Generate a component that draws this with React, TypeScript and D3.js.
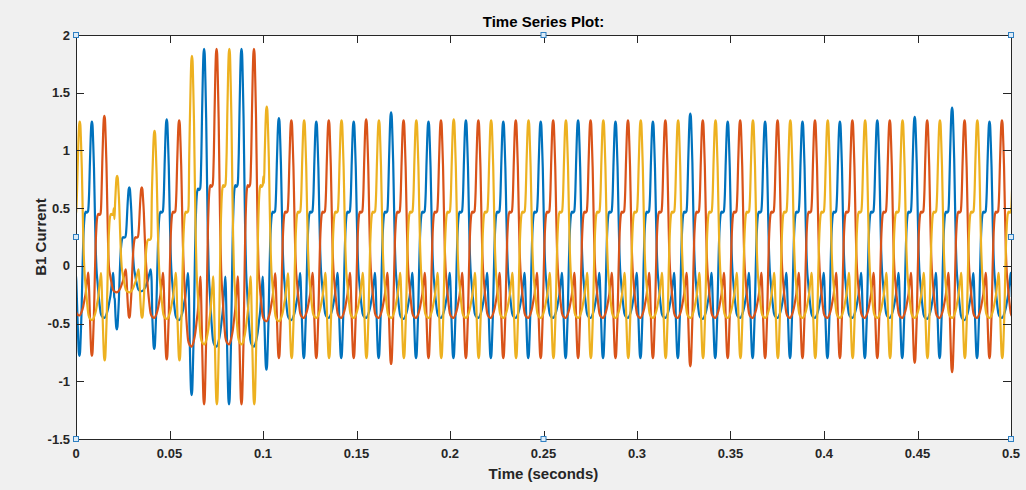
import React from "react";
import * as d3 from "d3";

const WIDTH = 1026;
const HEIGHT = 490;
const PERIOD = 0.02; // seconds per cycle (50 Hz)

const TITLE = "Time Series Plot:";
const X_LABEL = "Time (seconds)";
const Y_LABEL = "B1 Current";

const X_TICKS = [0, 0.05, 0.1, 0.15, 0.2, 0.25, 0.3, 0.35, 0.4, 0.45, 0.5];
const X_TICK_LABELS = ["0", "0.05", "0.1", "0.15", "0.2", "0.25", "0.3", "0.35", "0.4", "0.45", "0.5"];
const Y_TICKS = [-1.5, -1, -0.5, 0, 0.5, 1, 1.5, 2];
const Y_TICK_LABELS = ["-1.5", "-1", "-0.5", "0", "0.5", "1", "1.5", "2"];

// One steady-state cycle: phase (deg) relative to the main peak,
// value, and which feature of the cycle it belongs to (T trough, P plateau, K peak, V valley)
const CYCLE_PHASE = [-140, -132, -126, -120, -114, -108, -100, -92, -84, -76, -67, -58, -48, -38, -32, -26, -20, -12, -6, 0, 6, 12, 20, 28, 36, 44, 55, 70, 85, 100, 120, 140, 156, 170, 180, 190, 198, 205, 210, 215];
const CYCLE_VALUE = [-0.42, -0.65, -0.77, -0.8, -0.77, -0.64, -0.42, -0.1, 0.19, 0.36, 0.45, 0.47, 0.46, 0.47, 0.52, 0.65, 0.86, 1.1, 1.22, 1.25, 1.22, 1.08, 0.85, 0.5, 0.18, -0.02, -0.15, -0.3, -0.41, -0.44, -0.45, -0.42, -0.37, -0.3, -0.25, -0.16, -0.11, -0.06, -0.13, -0.27];
const CYCLE_FEATURE = ["T", "T", "T", "T", "T", "T", "T", "T", "P", "P", "P", "P", "P", "P", "P", "K", "K", "K", "K", "K", "K", "K", "K", "K", "K", "V", "V", "V", "V", "V", "V", "V", "V", "V", "V", "V", "V", "V", "V", "V"];
const FEATURE_REFERENCE: Record<string, number> = { T: -0.8, P: 0.47, K: 1.25, V: -0.45 };

// Phase A (blue): cycles with peaks at -0.0115, 0.0085, ...
const BLUE_FIRST_PEAK = -0.0115;
const BLUE_TROUGH = [-0.8, -0.78, -0.55, -0.72, -1.12, -1.2, -0.9, -0.8, -0.8, -0.8, -0.8, -0.8, -0.8, -0.8, -0.8, -0.8, -0.8, -0.8, -0.8, -0.8, -0.8, -0.8, -0.8, -0.8, -0.8, -0.8];
const BLUE_PLATEAU = [0.47, 0.47, 0.25, 0.47, 0.67, 0.7, 0.47, 0.47, 0.47, 0.47, 0.47, 0.47, 0.47, 0.47, 0.47, 0.47, 0.47, 0.47, 0.47, 0.47, 0.47, 0.47, 0.47, 0.47, 0.47, 0.47];
const BLUE_PEAK = [1.25, 1.25, 0.68, 1.27, 1.88, 1.88, 1.28, 1.25, 1.25, 1.33, 1.25, 1.26, 1.25, 1.25, 1.26, 1.25, 1.25, 1.32, 1.25, 1.25, 1.25, 1.25, 1.26, 1.29, 1.37, 1.25];
const BLUE_VALLEY = [-0.45, -0.45, -0.22, -0.47, -0.7, -0.7, -0.47, -0.45, -0.45, -0.46, -0.45, -0.45, -0.45, -0.45, -0.45, -0.45, -0.45, -0.46, -0.45, -0.45, -0.45, -0.45, -0.45, -0.46, -0.47, -0.45];

// Phase B (orange): peaks at -0.00483, 0.01517, ...
const RED_FIRST_PEAK = -0.00483;
const RED_TROUGH = [-0.8, -0.78, -0.45, -0.81, -1.2, -1.2, -0.8, -0.8, -0.8, -0.85, -0.8, -0.8, -0.8, -0.8, -0.8, -0.8, -0.8, -0.87, -0.8, -0.8, -0.8, -0.8, -0.8, -0.84, -0.92, -0.8];
const RED_PLATEAU = [0.47, 0.45, 0.25, 0.47, 0.7, 0.7, 0.47, 0.47, 0.47, 0.47, 0.47, 0.47, 0.47, 0.47, 0.47, 0.47, 0.47, 0.47, 0.47, 0.47, 0.47, 0.47, 0.47, 0.47, 0.47, 0.47];
const RED_PEAK = [1.25, 1.3, 0.68, 1.26, 1.88, 1.88, 1.26, 1.26, 1.27, 1.26, 1.26, 1.26, 1.26, 1.26, 1.26, 1.26, 1.26, 1.26, 1.26, 1.26, 1.26, 1.26, 1.26, 1.26, 1.26, 1.26];
const RED_VALLEY = [-0.43, -0.23, -0.45, -0.7, -0.68, -0.48, -0.45, -0.45, -0.45, -0.45, -0.45, -0.45, -0.45, -0.45, -0.45, -0.45, -0.45, -0.45, -0.45, -0.45, -0.45, -0.45, -0.45, -0.45, -0.45, -0.45];

// Phase C (yellow): peaks at 0.0020, 0.0220, ...
const YELLOW_FIRST_PEAK = 0.002;
const YELLOW_TROUGH = [-0.8, -0.82, -0.45, -0.82, -1.2, -1.2, -0.8, -0.8, -0.8, -0.8, -0.8, -0.8, -0.8, -0.8, -0.8, -0.8, -0.8, -0.8, -0.8, -0.8, -0.8, -0.8, -0.8, -0.8, -0.8, -0.8];
const YELLOW_PLATEAU = [0.45, 0.45, 0.23, 0.47, 0.7, 0.7, 0.47, 0.47, 0.47, 0.47, 0.47, 0.47, 0.47, 0.47, 0.47, 0.47, 0.47, 0.47, 0.47, 0.47, 0.47, 0.47, 0.47, 0.47, 0.47, 0.47];
const YELLOW_PEAK = [1.25, 0.78, 1.17, 1.82, 1.88, 1.38, 1.26, 1.26, 1.26, 1.26, 1.27, 1.26, 1.26, 1.26, 1.26, 1.26, 1.26, 1.26, 1.26, 1.26, 1.26, 1.26, 1.26, 1.26, 1.26, 1.26];
const YELLOW_VALLEY = [-0.47, -0.23, -0.46, -0.68, -0.68, -0.48, -0.45, -0.45, -0.45, -0.45, -0.45, -0.45, -0.45, -0.45, -0.45, -0.45, -0.45, -0.45, -0.45, -0.45, -0.45, -0.45, -0.45, -0.45, -0.45, -0.45];

const COLORS = ["#0072BD", "#D95319", "#EDB120"];

type Pt = [number, number];

function buildSeries(firstPeak: number, trough: number[], plateau: number[], peak: number[], valley: number[]): Pt[] {
  const pts: Pt[] = [];
  for (let i = 0; i < peak.length; i++) {
    const pk = firstPeak + i * PERIOD;
    const feat: Record<string, number> = { T: trough[i], P: plateau[i], K: peak[i], V: valley[i] };
    for (let j = 0; j < CYCLE_PHASE.length; j++) {
      const f = CYCLE_FEATURE[j];
      const scale = feat[f] / FEATURE_REFERENCE[f];
      pts.push([pk + (CYCLE_PHASE[j] / 360) * PERIOD, CYCLE_VALUE[j] * scale]);
    }
  }
  return pts;
}

const M = { left: 76, right: 1011, top: 35, bottom: 439 };

export default function App() {
  const x = d3.scaleLinear().domain([0, 0.5]).range([M.left, M.right]);
  const y = d3.scaleLinear().domain([-1.5, 2]).range([M.bottom, M.top]);
  const line = d3
    .line<Pt>()
    .x((d) => x(d[0]))
    .y((d) => y(d[1]))
    .curve(d3.curveMonotoneX);

  const series = [
    buildSeries(BLUE_FIRST_PEAK, BLUE_TROUGH, BLUE_PLATEAU, BLUE_PEAK, BLUE_VALLEY),
    buildSeries(RED_FIRST_PEAK, RED_TROUGH, RED_PLATEAU, RED_PEAK, RED_VALLEY),
    buildSeries(YELLOW_FIRST_PEAK, YELLOW_TROUGH, YELLOW_PLATEAU, YELLOW_PEAK, YELLOW_VALLEY),
  ];

  const axisColor = "#262626";
  const font = "'Liberation Sans', Arial, Helvetica, sans-serif";
  const tickLen = 8;
  const midX = (M.left + M.right) / 2;
  const midY = (M.top + M.bottom) / 2;
  const handles: Pt[] = [
    [M.left, M.top], [midX, M.top], [M.right, M.top],
    [M.left, midY], [M.right, midY],
    [M.left, M.bottom], [midX, M.bottom], [M.right, M.bottom],
  ];

  return (
    <svg
      width={WIDTH}
      height={HEIGHT}
      style={{ position: "absolute", left: 0, top: 0, display: "block" }}
      fontFamily={font}
    >
      <rect x={0} y={0} width={WIDTH} height={HEIGHT} fill="#F0F0F0" />
      <rect x={M.left} y={M.top} width={M.right - M.left} height={M.bottom - M.top} fill="#FFFFFF" />
      <defs>
        <clipPath id="plotClip">
          <rect x={M.left} y={M.top} width={M.right - M.left} height={M.bottom - M.top} />
        </clipPath>
      </defs>
      <g clipPath="url(#plotClip)">
        {series.map((s, i) => (
          <path
            key={i}
            d={line(s) || ""}
            fill="none"
            stroke={COLORS[i]}
            strokeWidth={2.2}
            strokeLinejoin="round"
          />
        ))}
      </g>
      {/* ticks */}
      <g stroke={axisColor} strokeWidth={1} shapeRendering="crispEdges">
        {X_TICKS.map((t, i) => (
          <g key={"xt" + i}>
            <line x1={Math.round(x(t)) + 0.5} x2={Math.round(x(t)) + 0.5} y1={M.bottom} y2={M.bottom - tickLen} />
            <line x1={Math.round(x(t)) + 0.5} x2={Math.round(x(t)) + 0.5} y1={M.top} y2={M.top + tickLen} />
          </g>
        ))}
        {Y_TICKS.map((t, i) => (
          <g key={"yt" + i}>
            <line x1={M.left} x2={M.left + tickLen} y1={Math.round(y(t)) + 0.5} y2={Math.round(y(t)) + 0.5} />
            <line x1={M.right} x2={M.right - tickLen} y1={Math.round(y(t)) + 0.5} y2={Math.round(y(t)) + 0.5} />
          </g>
        ))}
        <rect x={M.left + 0.5} y={M.top + 0.5} width={M.right - M.left} height={M.bottom - M.top} fill="none" />
      </g>
      {/* tick labels */}
      <g fill={axisColor} fontWeight="bold" fontSize={13}>
        {X_TICKS.map((t, i) => (
          <text key={"xl" + i} x={x(t)} y={M.bottom + 19} textAnchor="middle">
            {X_TICK_LABELS[i]}
          </text>
        ))}
        {Y_TICKS.map((t, i) => (
          <text key={"yl" + i} x={M.left - 6} y={y(t) + 4.5} textAnchor="end">
            {Y_TICK_LABELS[i]}
          </text>
        ))}
      </g>
      <text x={midX} y={27} textAnchor="middle" fontWeight="bold" fontSize={15} fill="#000">
        {TITLE}
      </text>
      <text x={midX} y={479} textAnchor="middle" fontWeight="bold" fontSize={15} fill={axisColor}>
        {X_LABEL}
      </text>
      <text
        transform={`translate(46, ${midY}) rotate(-90)`}
        textAnchor="middle"
        fontWeight="bold"
        fontSize={15}
        fill={axisColor}
      >
        {Y_LABEL}
      </text>
      {/* selection handles */}
      <g>
        {handles.map((h, i) => (
          <rect
            key={"h" + i}
            x={h[0] - 2.5}
            y={h[1] - 2.5}
            width={5}
            height={5}
            fill="#DCEBF7"
            stroke="#2F7FC1"
            strokeWidth={1}
          />
        ))}
      </g>
    </svg>
  );
}
